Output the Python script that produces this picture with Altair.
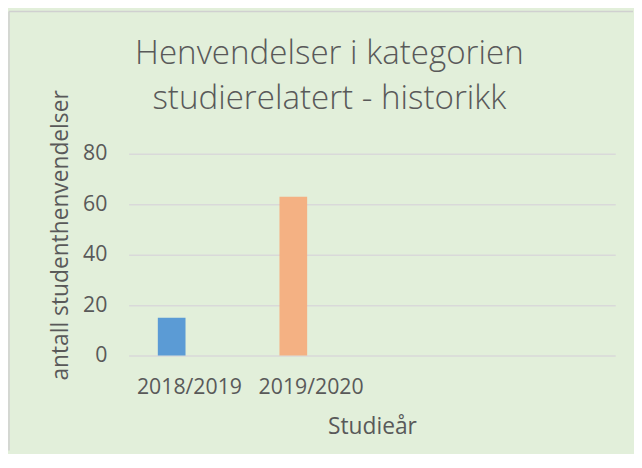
import altair as alt
import pandas as pd

categories = ["2018/2019", "2019/2020"]
values = [15, 63]
axis_categories = ["2018/2019", "2019/2020", " ", "  "]
colors = ["#5B9BD5", "#F4B183"]
title_lines = ["Henvendelser i kategorien", "studierelatert - historikk"]

df = pd.DataFrame({"Studieår": categories, "antall": values})
frame_df = pd.DataFrame({"frame": [0]})

TEXT = "#595959"
FONT = "Open Sans"

bars = (
    alt.Chart(df)
    .mark_bar(width=28, xOffset=-18)
    .encode(
        x=alt.X(
            "Studieår:N",
            scale=alt.Scale(domain=axis_categories, paddingInner=0, paddingOuter=0),
            axis=alt.Axis(
                title="Studieår",
                labelAngle=0,
                domain=False,
                ticks=False,
                labelPadding=21,
                titlePadding=18,
                labelFontSize=21.5,
                titleFontSize=23,
                labelColor=TEXT,
                titleColor=TEXT,
                labelFont=FONT,
                titleFont=FONT,
                titleFontWeight="normal",
            ),
        ),
        y=alt.Y(
            "antall:Q",
            scale=alt.Scale(domain=[0, 80]),
            axis=alt.Axis(
                title="antall studenthenvendelser",
                values=[0, 20, 40, 60, 80],
                domain=False,
                ticks=False,
                labelPadding=22,
                titlePadding=10,
                titleY=82,
                labelFontSize=21.5,
                titleFontSize=23,
                labelColor=TEXT,
                titleColor=TEXT,
                labelFont=FONT,
                titleFont=FONT,
                titleFontWeight="normal",
                gridColor="#D9D9D9",
                gridWidth=1.5,
            ),
        ),
        color=alt.Color(
            "Studieår:N",
            scale=alt.Scale(domain=categories, range=colors),
            legend=None,
        ),
    )
)

frame_top = (
    alt.Chart(frame_df)
    .mark_rule(color="#D0D0D0", strokeWidth=1.5)
    .encode(x=alt.value(-121), x2=alt.value(510), y=alt.value(-144))
)
frame_left = (
    alt.Chart(frame_df)
    .mark_rule(color="#D0D0D0", strokeWidth=1.5)
    .encode(x=alt.value(-121), y=alt.value(-144), y2=alt.value(300))
)

chart = (
    alt.layer(frame_top, frame_left, bars)
    .properties(
        width=492,
        height=204,
        padding=0,
        background="#E2EFDA",
        title=alt.TitleParams(
            text=title_lines,
            font=FONT,
            fontSize=33.5,
            fontWeight=300,
            color=TEXT,
            lineHeight=46,
            anchor="middle",
            dx=-43,
            dy=121,
            offset=14,
        ),
    )
    .configure_view(stroke=None)
)

chart.save("out.html", embed_options={"renderer": "svg", "actions": False})
